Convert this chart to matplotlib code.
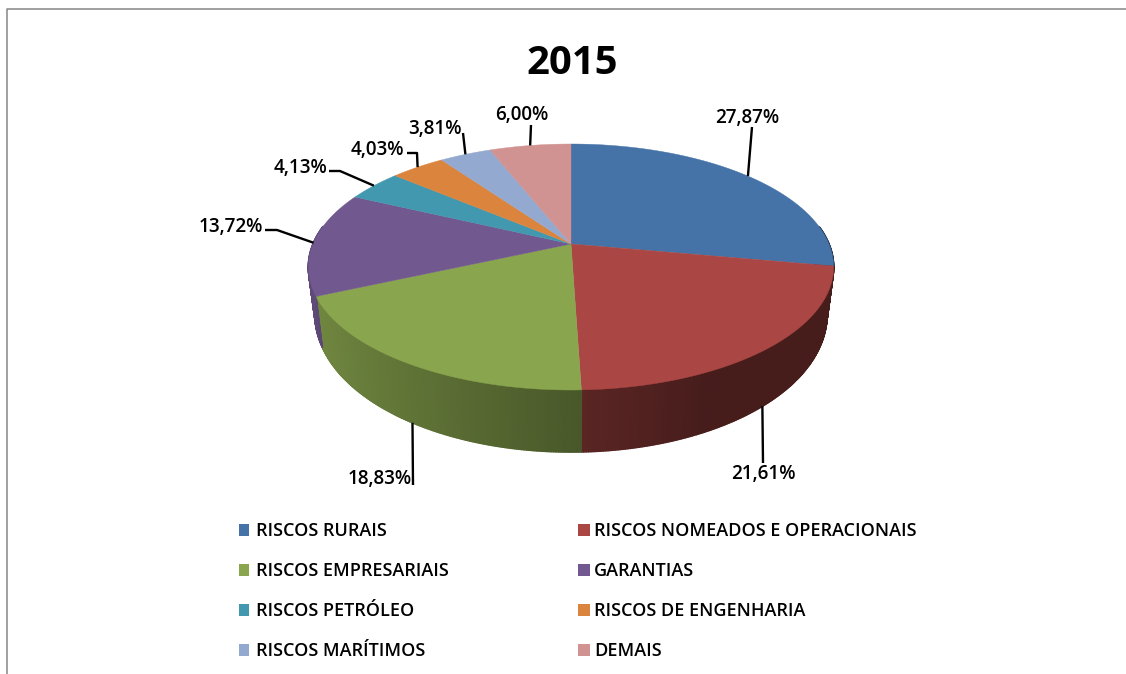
import numpy as np
import matplotlib
matplotlib.use("Agg")
import matplotlib.pyplot as plt
from matplotlib.collections import PolyCollection
from matplotlib.colors import to_rgb

title = "2015"
categories = ["RISCOS RURAIS", "RISCOS NOMEADOS E OPERACIONAIS", "RISCOS EMPRESARIAIS", "GARANTIAS",
              "RISCOS PETRÓLEO", "RISCOS DE ENGENHARIA", "RISCOS MARÍTIMOS", "DEMAIS"]
values = [27.87, 21.61, 18.83, 13.72, 4.13, 4.03, 3.81, 6.00]
colors = ["#4572A7", "#AA4643", "#89A54E", "#71588F", "#4198AF", "#DB843D", "#93A9CF", "#D19392"]

FONT = "Open Sans"
W, H = 1126, 674
fig = plt.figure(figsize=(W / 100, H / 100), dpi=100)
ax = fig.add_axes([0, 0, 1, 1])
ax.set_xlim(0, W)
ax.set_ylim(H, 0)
ax.axis("off")

# frame
ax.plot([6.5, 6.5, W], [H, 8.5, 8.5], color="#868686", lw=1.1, solid_capstyle="butt")

cx, cy, a, b, k = 571, 244, 258, 118.7, 0.187

def top(t):
    u, v = np.sin(t), np.cos(t)
    d = 1 + k * v
    return cx + a * u / d, cy - b * v / d

def rim(t):
    x, y = top(t)
    v = np.cos(t)
    return cx + (x - cx) * 0.975, y + (43.4 - 18.6 * v)

def shade(t):
    # wall brightness by position round the pie
    s = np.sin(t)
    return np.interp(s, [-1, -0.6, 0, 0.45, 1], [0.84, 0.72, 0.54, 0.41, 0.41])

bounds = np.concatenate([[0], np.cumsum(values)]) / sum(values) * 2 * np.pi

# side walls
polys, fc = [], []
for i, col in enumerate(colors):
    n = max(2, int((bounds[i + 1] - bounds[i]) / 0.008))
    ts = np.linspace(bounds[i], bounds[i + 1], n + 1)
    rgb = np.array(to_rgb(col))
    for t0, t1 in zip(ts[:-1], ts[1:]):
        if np.cos((t0 + t1) / 2) > 0.15:
            continue
        p = [top(t0), top(t1), rim(t1), rim(t0)]
        polys.append(p)
        fc.append(tuple(rgb * shade((t0 + t1) / 2)))
ax.add_collection(PolyCollection(polys, facecolors=fc, edgecolors=fc, linewidths=1.2, zorder=2))

# top surface
for i, col in enumerate(colors):
    ts = np.linspace(bounds[i], bounds[i + 1], 200)
    xs, ys = top(ts)
    ax.fill(np.r_[cx, xs], np.r_[cy, ys], color=col, lw=0.3, zorder=3)

# labels: (text x, text y, leader points)
mids = (bounds[:-1] + bounds[1:]) / 2
anchors = [top(mids[0]), rim(mids[1]), rim(mids[2]), top(mids[3]),
           top(mids[4]), top(mids[5]), top(mids[6]), top(mids[7])]
label_pos = [(747, 118), (763, 474), (380, 479), (231, 227), (300, 168), (377, 150), (435, 129), (522, 115)]
leaders = [[(752, 127)], [(763, 463)], [(413, 485)], [(265, 230), (277, 230)], [(329, 171), (340, 171)],
           [(407, 153), (417, 153)], [(463, 133)], [(531, 125)]]
for v, pos, lead, an in zip(values, label_pos, leaders, anchors):
    ax.text(pos[0], pos[1], f"{v:.2f}%".replace(".", ","), ha="center", va="center",
            fontsize=13.6, family=FONT, color="black", weight="semibold", zorder=5)
    pts = lead + [an]
    ax.plot([p[0] for p in pts], [p[1] for p in pts], color="black", lw=1.7, zorder=4,
            solid_capstyle="butt")

ax.text(572, 63, title, ha="center", va="center", fontsize=28.8, family=FONT, weight="bold", color="black")

# legend
col_x = [239, 578]
row_y = [529, 569, 609, 649]
for i, (name, col) in enumerate(zip(categories, colors)):
    x, y = col_x[i % 2], row_y[i // 2]
    ax.add_patch(plt.Rectangle((x, y - 5), 10 + (i % 2) * 2, 12, color=col, lw=0))
    ax.text(x + 17 - (i % 2), y + 1.5, name, ha="left", va="center", fontsize=13.0, family=FONT,
            weight="semibold", color="black")

fig.savefig("out.png", dpi=100)
